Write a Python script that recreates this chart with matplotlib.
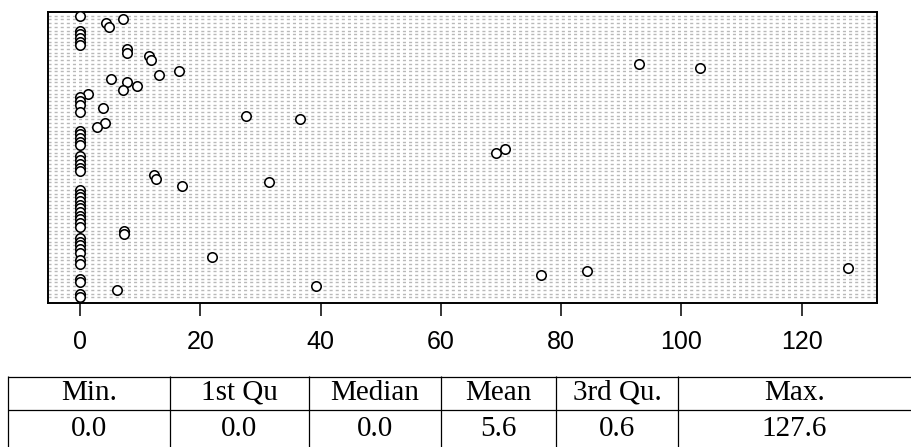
import matplotlib.pyplot as plt
import numpy as np

# dot chart values, read top row first
times = [0, 7.2, 4.4, 4.8, 0, 0, 0, 0, 0,
         7.9, 7.9, 11.5, 11.8, 92.9, 103.0, 16.5, 13.1, 5.2, 7.9, 9.5, 7.2, 1.4,
         0, 0, 0, 3.9, 0, 27.6, 36.6, 4.2, 2.9,
         0, 0, 0, 0, 0, 70.7, 69.2, 0, 0, 0, 0, 0,
         12.3, 12.6, 31.4, 17.0,
         0, 0, 0, 0, 0, 0, 0, 0, 0, 0, 0,
         7.3, 7.3, 0, 0, 0, 0, 0, 22.0, 0, 0,
         127.6, 84.3, 76.6, 0, 0, 39.2, 6.1, 0, 0]
xticks = [0, 20, 40, 60, 80, 100, 120]

stat_names = ["Min.", "1st Qu", "Median", "Mean", "3rd Qu.", "Max."]
stat_values = ["0.0", "0.0", "0.0", "5.6", "0.6", "127.6"]

W, H, DPI = 911, 447, 100
fig = plt.figure(figsize=(W / DPI, H / DPI), dpi=DPI)

ax = fig.add_axes([48 / W, 1 - 303 / H, (877 - 48) / W, (303 - 12) / H])
n = len(times)
rows = n - np.arange(n)
ax.hlines(rows, -5.3, 132.5, colors="#b9b9b9", linewidth=1.0,
          linestyles=(0, (2.2, 2.2)), zorder=1)
ax.plot(times, rows, "o", mfc="white", mec="black", ms=6.8, mew=1.15,
        linestyle="none", zorder=3)
ax.set_xlim(-5.3, 132.5)
ax.set_ylim(-0.54, n + 1.0)
ax.set_yticks([])
ax.set_xticks(xticks)
ax.set_xticklabels([str(t) for t in xticks], fontfamily="Liberation Sans",
                   fontsize=18)
ax.tick_params(axis="x", length=9.4, width=1.1, pad=10)
for s in ax.spines.values():
    s.set_linewidth(1.4)

# summary table under the chart (pixel coordinates)
tab = fig.add_axes([0, 0, 1, (H - 376) / H])
tab.set_xlim(0, W)
tab.set_ylim(H, 376)
tab.axis("off")
edges = [8, 170, 309, 441, 556, 678, W]
tab.hlines([376.5, 410], 8, W, colors="black", linewidth=0.9)
tab.vlines(edges[:-1], 376, H, colors="black", linewidth=0.9)
for i in range(len(stat_names)):
    cx = (edges[i] + edges[i + 1]) / 2
    tab.text(cx, 393, stat_names[i], ha="center", va="center",
             fontfamily="Liberation Serif", fontsize=21)
    tab.text(cx, 429, stat_values[i], ha="center", va="center",
             fontfamily="Liberation Serif", fontsize=21)

fig.savefig("out.png", dpi=DPI)
